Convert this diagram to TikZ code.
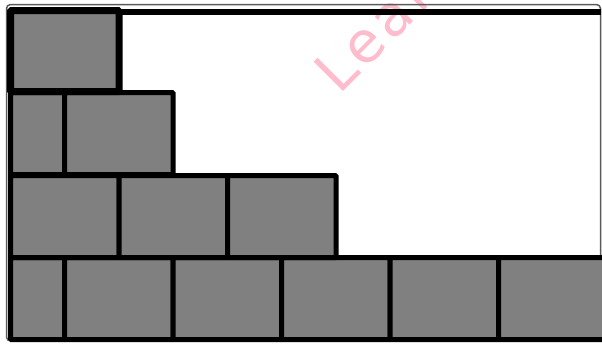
\documentclass[tikz,border=0pt]{standalone}
\usepackage{fontspec}
\newfontfamily\markfont[LetterSpace=8]{DejaVu Sans}
\definecolor{markpink}{RGB}{255,188,204}
\definecolor{rimgray}{RGB}{90,90,90}

\begin{document}
\begin{tikzpicture}[
  x=1pt,y=-1pt,
  block/.style={draw=black,fill=gray,line width=5pt,inner sep=0pt,
                minimum height=82pt,rounded corners=1pt},
  half/.style={block,minimum width=54pt},
  full/.style={block,minimum width=108.5pt},
  rim/.style={draw=rimgray,line width=1.5pt,rounded corners=4pt}
]
  \useasboundingbox (0,0) rectangle (602,343);
  \clip (0,0) rectangle (602,343);
  % watermark
  \node[font=\markfont\fontsize{57}{57}\selectfont,text=markpink,
        anchor=base west,rotate=45,inner sep=0pt] (mark) at (339,96) {Lear};
  % outer frame and top rim
  \draw[rim] (6.5,4.5) rectangle (600.5,341);
  \draw[line width=6pt] (15,12) -- (600.5,12);
  % bottom row
  \node[half] (d0) at (37.5,298.5) {};
  \foreach \k in {1,...,5}
    \node[full] (d\k) at ({64.5+(\k-0.5)*108.5},298.5) {};
  % third row
  \foreach \k in {1,...,3}
    \node[full] (c\k) at ({10.5+(\k-0.5)*108.5},216.5) {};
  % second row
  \node[half] (b0) at (37.5,133.5) {};
  \node[full] (b1) at (118.75,133.5) {};
  % top block
  \node[full,line width=7pt,minimum height=81pt] (a1) at (64.75,51) {};
\end{tikzpicture}
\end{document}
